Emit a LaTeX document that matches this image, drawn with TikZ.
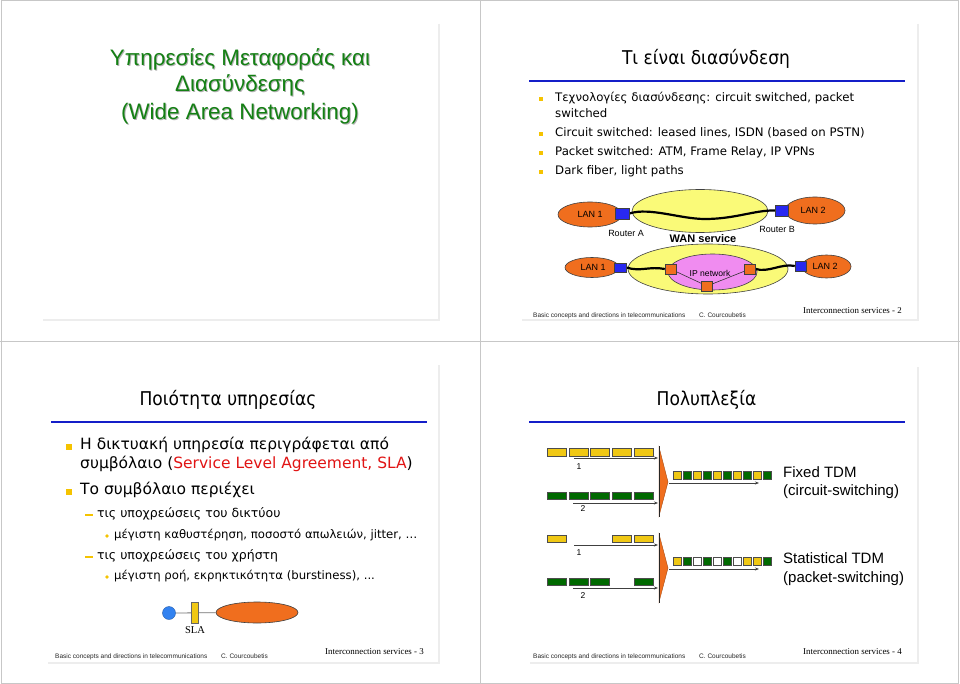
\documentclass[tikz,border=0pt]{standalone}
\usepackage{fontspec}
\setmainfont{Liberation Sans}
\newfontfamily\tah[FakeStretch=0.9]{DejaVu Sans}
\newfontfamily\tahb{DejaVu Sans}
\newfontfamily\tms{Liberation Serif}
\usetikzlibrary{shapes.geometric,arrows.meta}
\definecolor{titlegreen}{RGB}{20,128,20}
\definecolor{barblue}{RGB}{20,30,200}
\definecolor{bulyellow}{RGB}{245,195,0}
\definecolor{lanorange}{RGB}{240,110,30}
\definecolor{routerblue}{RGB}{40,40,240}
\definecolor{wanyellow}{RGB}{250,250,120}
\definecolor{ippink}{RGB}{240,140,240}
\definecolor{tdmyellow}{RGB}{240,200,20}
\definecolor{tdmgreen}{RGB}{0,105,0}
\definecolor{slared}{RGB}{225,20,20}
\definecolor{userblue}{RGB}{50,130,240}
\newcommand{\fsz}[1]{\fontsize{#1}{#1}\selectfont}
\pgfdeclarelayer{back}
\pgfdeclarelayer{mid}
\pgfsetlayers{back,mid,main}
\tikzset{
  txt/.style={inner sep=0, anchor=mid west},
  ctxt/.style={inner sep=0, anchor=mid},
  frameline/.style={draw=black!22, line width=0.8},
  shadowline/.style={draw=black!7, line width=1.5},
  titlebar/.style={draw=barblue, line width=1.8},
  sqbullet/.style={fill=bulyellow, inner sep=0, minimum size=#1, rectangle},
  dashbullet/.style={draw=bulyellow, line width=1.2},
  dotbullet/.style={fill=bulyellow},
  lanell/.style={ellipse, draw=black!75, fill=lanorange, inner sep=0, line width=0.6},
  wanell/.style={ellipse, draw=black!75, fill=wanyellow, inner sep=0, line width=0.6},
  ipell/.style={ellipse, draw=black!75, fill=ippink, inner sep=0, line width=0.6},
  router/.style={rectangle, draw=black!75, fill=routerblue, inner sep=0, line width=0.5},
  ipsw/.style={rectangle, draw=black!75, fill=lanorange, inner sep=0, minimum width=11, minimum height=10, line width=0.5},
  wire/.style={draw=black, line width=2.2},
  thinwire/.style={draw=black!80, line width=0.6},
  netlabel/.style={inner sep=0, font=\fsz{9}},
  slot/.style={draw=black!70, line width=0.4},
  tdmarrow/.style={draw=black!75, line width=0.8, -{Stealth[length=4pt,width=3pt]}},
  mux/.style={fill=lanorange, draw=lanorange!70!black, line width=0.4},
  tdmtext/.style={txt, font=\fsz{15}},
  foot/.style={txt, font=\fsz{6.5}, text=black!85},
  foottms/.style={txt, font=\tms\fsz{8.9}},
  slidetitle/.style={ctxt, font=\tah\fsz{19}},
}
\newcommand{\slidefooter}[4]{%
  \node[foot] (fa#1) at (#2,#3) {Basic concepts and directions in telecommunications};
  \node[foot] (fb#1) at (#2+166,#3) {C. Courcoubetis};
  \node[foottms] (fc#1) at (#2+270,#3-4.5) {Interconnection services - #4};
}
\begin{document}
\begin{tikzpicture}[x=1pt,y=-1pt]
\useasboundingbox (0,0) rectangle (960,684);
\begin{pgfonlayer}{back}
  \fill[white] (0,0) rectangle (960,684);
\end{pgfonlayer}
% ---------- frames ----------
\draw[frameline] (1,0.5) rectangle (958.5,683.5);
\draw[frameline] (480,0) -- (480,684);
\draw[frameline] (0,341) -- (960,341);
\draw[shadowline] (439,24) -- (439,320) -- (43,320);
\draw[shadowline] (918,24) -- (918,320) -- (522,320);
\draw[shadowline] (439,365) -- (439,663) -- (48,663);
\draw[shadowline] (918,367) -- (918,663) -- (530,663);

% ---------- slide 1 ----------
\foreach \t/\yy [count=\k] in {Υπηρεσίες Μεταφοράς και/63, Διασύνδεσης/89, (Wide Area Networking)/117}{
  \node[ctxt, font=\fsz{22.4}, text=black!30] at (241,\yy+1) {\t};
  \node[ctxt, font=\fsz{22.4}, text=titlegreen] (t1l\k) at (240,\yy) {\t};
}

% ---------- slide 2 ----------
\node[slidetitle] (t2) at (706,62) {Τι είναι διασύνδεση};
\draw[titlebar] (529,81) -- (905,81);
\begin{scope}[font=\tahb\fsz{11.75}]
  \foreach \yy in {99,134,153,172} \node[sqbullet=4] at (541,\yy) {};
  \node[txt] (b21) at (555,99) {Τεχνολογίες διασύνδεσης: circuit switched, packet};
  \node[txt] (b21b) at (555,115) {switched};
  \node[txt] (b22) at (555,134) {Circuit switched: leased lines, ISDN (based on PSTN)};
  \node[txt] (b23) at (555,153) {Packet switched: ATM, Frame Relay, IP VPNs};
  \node[txt] (b24) at (555,172) {Dark fiber, light paths};
\end{scope}
% network diagram
\begin{pgfonlayer}{back}
  \node[lanell, minimum width=64, minimum height=25] (lan1a) at (590,214.5) {};
  \node[wanell, minimum width=136, minimum height=43] (wan1) at (700,211) {};
  \node[lanell, minimum width=60, minimum height=27] (lan2a) at (815,210.5) {};
  \node[lanell, minimum width=54, minimum height=20] (lan1b) at (592,267.5) {};
  \node[wanell, minimum width=160, minimum height=50] (wan2) at (708,269) {};
  \node[ipell, minimum width=89, minimum height=36] (ipn) at (712.5,272) {};
  \node[lanell, minimum width=49, minimum height=23] (lan2b) at (826.5,266.5) {};
\end{pgfonlayer}
\node[netlabel] at (590,214.5) {LAN 1};
\node[netlabel] at (813,210.5) {LAN 2};
\node[netlabel] at (593,267.5) {LAN 1};
\node[netlabel] at (825,266.5) {LAN 2};
\node[netlabel, font=\fsz{8.6}] (iplab) at (710,273) {IP network};
\node[router, minimum width=14, minimum height=11] (rA) at (622,213.5) {};
\node[router, minimum width=13, minimum height=11] (rB) at (781.5,210.5) {};
\node[router, minimum width=12, minimum height=9] (rC) at (620,267.5) {};
\node[router, minimum width=11, minimum height=10] (rD) at (800.5,266) {};
\node[ipsw] (oL) at (670.5,269) {};
\node[ipsw] (oR) at (750,269) {};
\node[ipsw] (oB) at (707,286) {};
\node[netlabel] (ra) at (626,233) {Router A};
\node[netlabel] (rb) at (777,229) {Router B};
\node[inner sep=0, font=\bfseries\fsz{11}] (wans) at (703,239) {WAN service};
\begin{pgfonlayer}{mid}
  \draw[wire] (rA.east) .. controls (650,207) and (680,219) .. (705,219)
                        .. controls (735,219) and (755,210) .. (rB.west);
  \draw[wire] (rC.east) .. controls (640,272) and (650,266) .. (oL.west);
  \draw[wire] (oR.east) .. controls (768,273) and (782,263) .. (rD.west);
  \draw[thinwire] (oL.center) -- (oB.center) -- (oR.center);
\end{pgfonlayer}
\slidefooter{2}{533}{315}{2}

% ---------- slide 3 ----------
\node[slidetitle] (t3) at (228,403) {Ποιότητα υπηρεσίας};
\draw[titlebar] (51,422) -- (427,422);
\node[sqbullet=6] at (69,447) {};
\node[sqbullet=6] at (69,492) {};
\begin{scope}[font=\tahb\fsz{15.5}]
  \node[txt] (b31) at (80,447) {Η δικτυακή υπηρεσία περιγράφεται από};
  \node[txt] (b31b) at (80,466) {συμβόλαιο (\textcolor{slared}{Service Level Agreement, SLA})};
  \node[txt] (b32) at (80,492) {Το συμβόλαιο περιέχει};
\end{scope}
\draw[dashbullet] (85,515) -- (93,515);
\draw[dashbullet] (85,557) -- (93,557);
\fill[dotbullet] (107,536) circle (1.9);
\fill[dotbullet] (107,577) circle (1.9);
\node[txt, font=\tahb\fsz{12.5}] (b33) at (97,515) {τις υποχρεώσεις του δικτύου};
\node[txt, font=\tahb\fsz{11.7}] (b34) at (114,536) {μέγιστη καθυστέρηση, ποσοστό απωλειών, jitter, …};
\node[txt, font=\tahb\fsz{12.5}] (b35) at (97,557) {τις υποχρεώσεις του χρήστη};
\node[txt, font=\tahb\fsz{11.7}] (b36) at (114,577) {μέγιστη ροή, εκρηκτικότητα (burstiness), ...};
% SLA diagram
\node[circle, fill=userblue, draw=userblue!70!black, line width=0.4, minimum size=13, inner sep=0] (user) at (169,613) {};
\node[lanell, minimum width=82, minimum height=21] (net3) at (257,612.5) {};
\begin{pgfonlayer}{mid}
  \draw[black!55, line width=0.8] (user) -- (net3);
\end{pgfonlayer}
\node[rectangle, fill=tdmyellow, draw=black!60, line width=0.5, minimum width=7, minimum height=21, inner sep=0] (sla) at (194.5,612.5) {};
\node[ctxt, font=\tms\fsz{10.5}] (slalab) at (195,631) {SLA};
\slidefooter{3}{55}{656}{3}

% ---------- slide 4 ----------
\node[slidetitle] (t4) at (706.5,403) {Πολυπλεξία};
\draw[titlebar] (529,422) -- (905,422);
% Fixed TDM
\foreach \i in {0,...,4} \filldraw[slot, fill=tdmyellow] ({547+21.75*\i},448) rectangle +(19,8);
\foreach \i in {0,...,4} \filldraw[slot, fill=tdmgreen] ({547+21.75*\i},492) rectangle +(19,7.5);
\coordinate (m1t) at (668,482);
\filldraw[mux] (659,447) -- (m1t) -- (659,516) -- cycle;
\draw[black!85, line width=0.8] (659,446) -- (659,517);
\coordinate (a1s) at (574,458); \coordinate (a1e) at (658,458);
\coordinate (a2s) at (573,503); \coordinate (a2e) at (658,503);
\coordinate (o1s) at (669,483); \coordinate (o1e) at (759,483);
\draw[tdmarrow] (a1s) -- (a1e);
\draw[tdmarrow] (a2s) -- (a2e);
\draw[tdmarrow] (o1s) -- (o1e);
\foreach \c [count=\i from 0] in {tdmyellow,tdmgreen,tdmyellow,tdmgreen,tdmyellow,tdmgreen,tdmyellow,tdmgreen,tdmyellow,tdmgreen}
  \filldraw[slot, fill=\c] ({673+10*\i},471) rectangle +(8.5,8);
\node[ctxt, font=\fsz{8.5}] (l1a) at (579,467) {1};
\node[ctxt, font=\fsz{8.5}] (l2a) at (583,509) {2};
% Statistical TDM
\foreach \i in {0,3,4} \filldraw[slot, fill=tdmyellow] ({547+21.75*\i},535) rectangle +(19,7.5);
\foreach \i in {0,1,2,4} \filldraw[slot, fill=tdmgreen] ({547+21.75*\i},578) rectangle +(19,7.5);
\coordinate (m2t) at (668,568);
\filldraw[mux] (659,534) -- (m2t) -- (659,602) -- cycle;
\draw[black!85, line width=0.8] (659,533) -- (659,603);
\coordinate (a3s) at (574,545); \coordinate (a3e) at (658,545);
\coordinate (a4s) at (573,588); \coordinate (a4e) at (658,588);
\coordinate (o2s) at (669,569); \coordinate (o2e) at (759,569);
\draw[tdmarrow] (a3s) -- (a3e);
\draw[tdmarrow] (a4s) -- (a4e);
\draw[tdmarrow] (o2s) -- (o2e);
\foreach \c [count=\i from 0] in {tdmyellow,tdmgreen,white,tdmgreen,white,tdmgreen,white,tdmyellow,tdmyellow,tdmgreen}
  \filldraw[slot, fill=\c] ({673+10*\i},557) rectangle +(8.5,8);
\node[ctxt, font=\fsz{8.5}] (l1b) at (579,553) {1};
\node[ctxt, font=\fsz{8.5}] (l2b) at (583,596) {2};
\node[tdmtext] (ft1) at (783,475) {Fixed TDM};
\node[tdmtext] (ft2) at (783,493) {(circuit-switching)};
\node[tdmtext] (st1) at (783,561) {Statistical TDM};
\node[tdmtext] (st2) at (783,580) {(packet-switching)};
\slidefooter{4}{533}{656}{4}
\end{tikzpicture}
\end{document}
